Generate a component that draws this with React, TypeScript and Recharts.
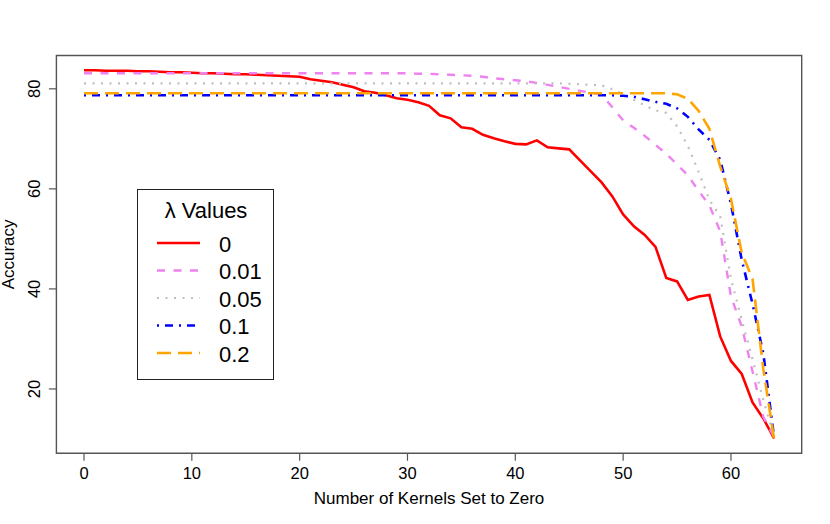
import { LineChart, Line, XAxis, YAxis, ReferenceArea, Legend } from 'recharts';

const FONT = '"Liberation Sans", Arial, Helvetica, sans-serif';

// number of kernels set to zero
const kernels = [
  0, 1, 2, 3, 4, 5, 6, 7, 8, 9, 10, 11, 12, 13, 14, 15, 16, 17, 18, 19, 20, 21, 22, 23, 24, 25,
  26, 27, 28, 29, 30, 31, 32, 33, 34, 35, 36, 37, 38, 39, 40, 41, 42, 43, 44, 45, 46, 47, 48, 49,
  50, 51, 52, 53, 54, 55, 56, 57, 58, 59, 60, 61, 62, 63, 64,
];

const acc0 = [
  83.7, 83.7, 83.6, 83.6, 83.6, 83.5, 83.5, 83.4, 83.3, 83.3, 83.2, 83.1, 83.1, 83.0, 82.9, 82.9,
  82.8, 82.7, 82.6, 82.5, 82.4, 81.9, 81.6, 81.3, 80.8, 80.3, 79.5, 79.2, 78.7, 78.1, 77.8, 77.3,
  76.6, 74.7, 74.1, 72.3, 72.0, 70.8, 70.1, 69.5, 69.0, 68.9, 69.7, 68.3, 68.1, 67.9, 65.7, 63.5,
  61.3, 58.5, 54.9, 52.5, 50.8, 48.4, 42.2, 41.5, 37.8, 38.5, 38.8, 30.5, 25.6, 23.0, 17.3, 14.1,
  10.1,
];

const acc001 = [
  83.1, 83.1, 83.1, 83.1, 83.1, 83.1, 83.1, 83.1, 83.1, 83.1, 83.1, 83.1, 83.1, 83.1, 83.1, 83.1,
  83.1, 83.1, 83.1, 83.1, 83.1, 83.1, 83.1, 83.1, 83.1, 83.1, 83.1, 83.1, 83.1, 83.1, 83.1, 83.0,
  83.0, 82.9, 82.8, 82.7, 82.6, 82.4, 82.1, 81.9, 81.7, 81.5, 81.2, 80.8, 80.4, 80.0, 79.6, 79.2,
  78.8, 76.3, 73.7, 72.2, 70.6, 68.8, 67.0, 64.9, 62.7, 59.6, 56.7, 51.5, 38.5, 32.5, 23.5, 14.4,
  10.4,
];

const acc005 = [
  81.1, 81.1, 81.1, 81.1, 81.1, 81.1, 81.1, 81.1, 81.1, 81.1, 81.1, 81.1, 81.1, 81.1, 81.1, 81.1,
  81.1, 81.1, 81.1, 81.1, 81.1, 81.1, 81.1, 81.1, 81.1, 81.1, 81.1, 81.1, 81.1, 81.1, 81.1, 81.1,
  81.1, 81.1, 81.1, 81.1, 81.1, 81.1, 81.1, 81.1, 81.1, 81.1, 81.1, 81.1, 81.1, 81.0, 80.9, 80.8,
  80.7, 79.9, 78.9, 77.8, 76.7, 75.7, 75.2, 72.5, 68.6, 63.4, 57.8, 54.5, 42.0, 33.8, 26.0, 17.8,
  10.4,
];

const acc01 = [
  78.7, 78.7, 78.7, 78.7, 78.7, 78.7, 78.7, 78.7, 78.7, 78.7, 78.7, 78.7, 78.7, 78.7, 78.7, 78.7,
  78.7, 78.7, 78.7, 78.7, 78.7, 78.7, 78.7, 78.7, 78.7, 78.7, 78.7, 78.7, 78.7, 78.7, 78.7, 78.7,
  78.7, 78.7, 78.7, 78.7, 78.7, 78.7, 78.7, 78.7, 78.7, 78.7, 78.7, 78.7, 78.7, 78.7, 78.7, 78.7,
  78.7, 78.7, 78.6, 78.4, 77.9, 77.4, 77.0, 76.1, 74.4, 71.9, 69.8, 65.8, 57.0, 45.8, 37.0, 27.1,
  10.3,
];

const acc02 = [
  79.1, 79.1, 79.1, 79.1, 79.1, 79.1, 79.1, 79.1, 79.1, 79.1, 79.1, 79.1, 79.1, 79.1, 79.1, 79.1,
  79.1, 79.1, 79.1, 79.1, 79.1, 79.1, 79.1, 79.1, 79.1, 79.1, 79.1, 79.1, 79.1, 79.1, 79.1, 79.1,
  79.1, 79.1, 79.1, 79.1, 79.1, 79.1, 79.1, 79.1, 79.1, 79.1, 79.1, 79.1, 79.1, 79.1, 79.1, 79.1,
  79.1, 79.1, 79.1, 79.1, 79.1, 79.1, 79.1, 78.9, 78.0, 75.6, 72.0, 64.5, 58.0, 47.2, 42.0, 24.0,
  10.0,
];

const lambdaLabels = ['0', '0.01', '0.05', '0.1', '0.2'];
const xTicks = [0, 10, 20, 30, 40, 50, 60];
const yTicks = [20, 40, 60, 80];

const series = [
  { key: 'l0', label: lambdaLabels[0], color: '#ff0000', dash: undefined, width: 2.6 },
  { key: 'l001', label: lambdaLabels[1], color: '#ee82ee', dash: '8 8.5', width: 2.4 },
  { key: 'l005', label: lambdaLabels[2], color: '#bebebe', dash: '2 6.5', width: 2.2 },
  { key: 'l01', label: lambdaLabels[3], color: '#0000ff', dash: '2 6 8 6', width: 2.6 },
  { key: 'l02', label: lambdaLabels[4], color: '#ffa500', dash: '14 7', width: 2.6 },
];

const data = kernels.map((k, i) => ({
  k,
  l0: acc0[i],
  l001: acc001[i],
  l005: acc005[i],
  l01: acc01[i],
  l02: acc02[i],
}));

const X_DOMAIN: [number, number] = [-2.56, 66.56];
const Y_DOMAIN: [number, number] = [7.14, 86.66];

const XTick = (props: any) => (
  <text
    x={props.x}
    y={props.y + 10}
    textAnchor="middle"
    dominantBaseline="central"
    fontSize={16.5}
    fontFamily={FONT}
    fill="#000"
  >
    {props.payload.value}
  </text>
);

const YTick = (props: any) => {
  const cx = props.x - 13;
  return (
    <text
      x={cx}
      y={props.y}
      transform={`rotate(-90 ${cx} ${props.y})`}
      textAnchor="middle"
      dominantBaseline="central"
      fontSize={16.5}
      fontFamily={FONT}
      fill="#000"
    >
      {props.payload.value}
    </text>
  );
};

const XTitle = (props: any) => {
  const vb = props.viewBox;
  return (
    <text
      x={vb.x + vb.width / 2}
      y={vb.y + 45}
      textAnchor="middle"
      dominantBaseline="central"
      fontSize={17}
      fontFamily={FONT}
      fill="#000"
    >
      Number of Kernels Set to Zero
    </text>
  );
};

const YTitle = (props: any) => {
  const vb = props.viewBox;
  const cx = vb.x + 9;
  const cy = vb.y + vb.height / 2;
  return (
    <text
      x={cx}
      y={cy}
      transform={`rotate(-90 ${cx} ${cy})`}
      textAnchor="middle"
      dominantBaseline="central"
      fontSize={17}
      fontFamily={FONT}
      fill="#000"
    >
      Accuracy
    </text>
  );
};

function LambdaLegend() {
  return (
    <div
      style={{
        width: 137,
        height: 191,
        border: '1px solid #222',
        boxSizing: 'border-box',
        background: '#fff',
      }}
    >
      <svg width={135} height={189} style={{ display: 'block' }}>
        <text x={68} y={20} textAnchor="middle" dominantBaseline="central" fontSize={22} fontFamily={FONT}>
          λ Values
        </text>
        {series.map((s, i) => {
          const y = 53 + i * 27.5;
          return (
            <g key={s.key}>
              <line x1={19} x2={62} y1={y} y2={y} stroke={s.color} strokeWidth={s.width} strokeDasharray={s.dash} />
              <text x={81} y={y + 1} dominantBaseline="central" fontSize={22} fontFamily={FONT}>
                {s.label}
              </text>
            </g>
          );
        })}
      </svg>
    </div>
  );
}

export default function App() {
  return (
    <div style={{ position: 'absolute', left: 0, top: 0, width: 830, height: 524, background: '#fff' }}>
      <LineChart width={830} height={524} data={data} margin={{ top: 55.5, right: 28.3, left: 0, bottom: 0 }}>
        <XAxis
          dataKey="k"
          type="number"
          domain={X_DOMAIN}
          allowDataOverflow
          ticks={xTicks}
          interval={0}
          height={70.7}
          axisLine={false}
          tickLine={{ stroke: '#555', strokeWidth: 1.2 }}
          tickSize={7.5}
          tickMargin={2}
          tick={<XTick />}
          label={<XTitle />}
        />
        <YAxis
          type="number"
          domain={Y_DOMAIN}
          allowDataOverflow
          ticks={yTicks}
          interval={0}
          width={56.4}
          axisLine={false}
          tickLine={{ stroke: '#555', strokeWidth: 1.2 }}
          tickSize={7.5}
          tickMargin={2}
          tick={<YTick />}
          label={<YTitle />}
        />
        <ReferenceArea
          x1={X_DOMAIN[0]}
          x2={X_DOMAIN[1]}
          y1={Y_DOMAIN[0]}
          y2={Y_DOMAIN[1]}
          fill="none"
          stroke="#555"
          strokeWidth={1.4}
        />
        {series.map((s) => (
          <Line
            key={s.key}
            dataKey={s.key}
            name={s.label}
            type="linear"
            stroke={s.color}
            strokeWidth={s.width}
            strokeDasharray={s.dash}
            dot={false}
            activeDot={false}
            isAnimationActive={false}
          />
        ))}
        <Legend
          layout="vertical"
          align="center"
          verticalAlign="middle"
          content={() => <LambdaLegend />}
          wrapperStyle={{ left: 137, top: 189, width: 137, height: 191, right: 'auto', bottom: 'auto', margin: 0 }}
        />
      </LineChart>
    </div>
  );
}
